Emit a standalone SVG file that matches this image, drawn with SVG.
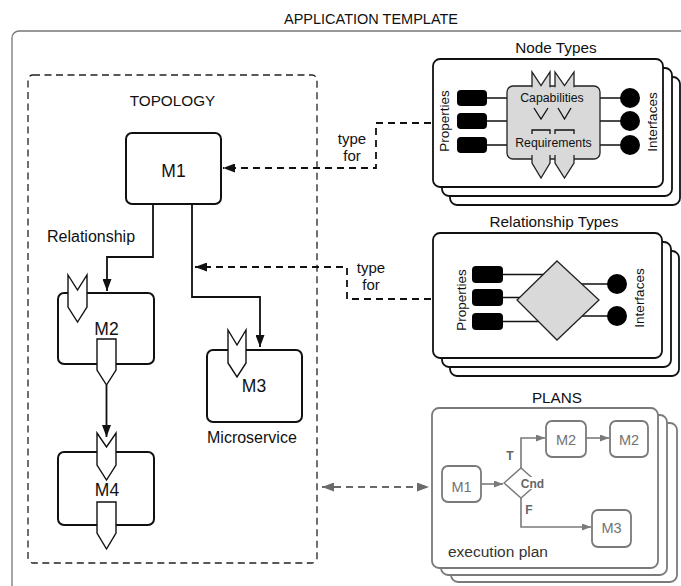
<svg xmlns="http://www.w3.org/2000/svg" width="681" height="586" viewBox="0 0 681 586">
  <defs>
    <style>
      text { font-family: "Liberation Sans", Arial, Helvetica, sans-serif; fill: #111; }
      .title { font-size: 14.5px; text-anchor: middle; }
      .head { font-size: 15.3px; text-anchor: middle; }
      .lbl { font-size: 16px; }
      .mid { text-anchor: middle; }
      .m { font-size: 17.5px; text-anchor: middle; }
      .side { font-size: 13.5px; text-anchor: middle; }
      .inner { font-size: 12.3px; text-anchor: middle; }
      .tf { font-size: 15px; text-anchor: middle; }
      .frame { fill: none; stroke: #777; stroke-width: 1.3; }
      .topo { fill: none; stroke: #222; stroke-width: 1.3; stroke-dasharray: 7 4.5; }
      .card { fill: #fff; stroke: #111; stroke-width: 1.8; }
      .pcard { fill: #fff; stroke: #7a7a7a; stroke-width: 1.8; }
      .node { fill: #fff; stroke: #111; stroke-width: 2; }
      .port { fill: #fff; stroke: #111; stroke-width: 1.4; stroke-linejoin: miter; }
      .prop { fill: #000; }
      .ifc { fill: #000; }
      .gray { fill: #d9d9d9; stroke: #222; stroke-width: 1.3; stroke-linejoin: miter; }
      .wire { stroke: #111; stroke-width: 1.5; fill: none; }
      .link { stroke: #111; stroke-width: 1.8; fill: none; }
      .dash { stroke: #111; stroke-width: 1.8; fill: none; stroke-dasharray: 7 5; }
      .gdash { stroke: #6a6a6a; stroke-width: 1.8; fill: none; stroke-dasharray: 7 5; }
      .pnode { fill: #fff; stroke: #7a7a7a; stroke-width: 1.8; }
      .pline { stroke: #7a7a7a; stroke-width: 1.6; fill: none; }
      .ptext { fill: #727272; font-size: 14.5px; text-anchor: middle; }
      .pbold { fill: #666; font-size: 12px; font-weight: bold; text-anchor: middle; }
    </style>
    <marker id="ah" markerUnits="userSpaceOnUse" markerWidth="12" markerHeight="9" refX="12" refY="4.5" orient="auto">
      <path d="M0,0 L12,4.5 L0,9 z" fill="#111"/>
    </marker>
    <marker id="ahg" markerUnits="userSpaceOnUse" markerWidth="12" markerHeight="9" refX="12" refY="4.5" orient="auto-start-reverse">
      <path d="M0,0 L12,4.5 L0,9 z" fill="#6a6a6a"/>
    </marker>
    <marker id="ahp" markerUnits="userSpaceOnUse" markerWidth="9" markerHeight="7" refX="9" refY="3.5" orient="auto">
      <path d="M0,0 L9,3.5 L0,7 z" fill="#7a7a7a"/>
    </marker>
  </defs>

  <!-- application template frame -->
  <text class="title" x="371" y="24">APPLICATION TEMPLATE</text>
  <rect class="frame" x="12" y="31" width="690" height="580" rx="7"/>

  <!-- topology container -->
  <g id="topology">
    <rect class="topo" x="28" y="75" width="289" height="488" rx="5"/>
    <text class="head" x="172.5" y="106">TOPOLOGY</text>
  </g>

  <!-- connectors -->
  <g id="connectors">
    <path class="link" d="M153,204 V257 H107 V291" marker-end="url(#ah)"/>
    <path class="link" d="M192,204 V297 H260 V347" marker-end="url(#ah)"/>
    <path class="link" d="M106.5,385 V437" marker-end="url(#ah)"/>
    <path class="dash" d="M431,123 H376 V168 H223" marker-end="url(#ah)"/>
    <path class="dash" d="M431,299 H347 V267 H195" marker-end="url(#ah)"/>
    <path class="gdash" d="M322,487 H429" marker-start="url(#ahg)" marker-end="url(#ahg)"/>
    <text class="tf" x="352" y="144">type</text>
    <text class="tf" x="352" y="161">for</text>
    <text class="tf" x="371" y="273">type</text>
    <text class="tf" x="371" y="290">for</text>
    <text class="lbl" x="47" y="242">Relationship</text>
  </g>

  <!-- topology nodes -->
  <g id="M1">
    <rect class="node" x="126" y="133" width="95" height="71" rx="6"/>
    <text class="m" x="173.5" y="177">M1</text>
  </g>
  <g id="M2">
    <rect class="node" x="58" y="293" width="96" height="71" rx="6"/>
    <polygon class="port" points="68,275 77.5,290 87,275 87,307 77.5,322 68,307"/>
    <text class="m" x="106.5" y="335">M2</text>
    <polygon class="port" points="97,339 116,339 116,370 106.5,385 97,370"/>
  </g>
  <g id="M3">
    <rect class="node" x="207" y="350" width="95" height="72" rx="6"/>
    <polygon class="port" points="228,330 237,345 246,330 246,363 237,377 228,363"/>
    <text class="m" x="254" y="392">M3</text>
    <text class="lbl" x="207" y="443">Microservice</text>
  </g>
  <g id="M4">
    <rect class="node" x="58" y="452" width="96" height="73" rx="6"/>
    <polygon class="port" points="97,433 106.5,447 116,433 116,465 106.5,480 97,465"/>
    <text class="m" x="107" y="496">M4</text>
    <polygon class="port" points="97,502 116,502 116,533 106.5,549 97,533"/>
  </g>

  <!-- node types stack -->
  <g id="node-types">
    <text class="head" x="556" y="53">Node Types</text>
    <rect class="card" x="450" y="77" width="230" height="128" rx="7"/>
    <rect class="card" x="442" y="68" width="230" height="128" rx="7"/>
    <rect class="card" x="433" y="59" width="230" height="128" rx="7"/>
    <path class="wire" d="M487,98 H507 M487,121 H507 M487,145 H507 M600,98 H621 M600,121 H621 M600,145 H621"/>
    <rect class="prop" x="457" y="90" width="30" height="16" rx="4"/>
    <rect class="prop" x="457" y="113" width="30" height="16" rx="4"/>
    <rect class="prop" x="457" y="137" width="30" height="16" rx="4"/>
    <circle class="ifc" cx="630" cy="98" r="10"/>
    <circle class="ifc" cx="630" cy="121" r="10"/>
    <circle class="ifc" cx="630" cy="145" r="10"/>
    <rect class="gray" x="507" y="86" width="93" height="73" rx="6"/>
    <path class="gray" d="M532,87.2 V72 L541,85.5 L550,72 V87.2"/>
    <path class="gray" d="M555,87.2 V72 L564.5,85.5 L574,72 V87.2"/>
    <path class="wire" style="stroke-width:1.3" d="M534,108 L541,119 L548,108 M558,108 L564.5,119 L571,108"/>
    <path class="wire" style="stroke-width:1.3" d="M532,134 V130 H550 V134 M555,134 V130 H574 V134"/>
    <path class="gray" d="M532,155 V163 L541,178 L550,163 V155"/>
    <path class="gray" d="M555,155 V163 L564.5,178 L574,163 V155"/>
    <text class="inner" x="552" y="102">Capabilities</text>
    <text class="inner" x="553.5" y="147">Requirements</text>
    <text class="side" transform="translate(449,121) rotate(-90)">Properties</text>
    <text class="side" transform="translate(657,122) rotate(-90)">Interfaces</text>
  </g>

  <!-- relationship types stack -->
  <g id="relationship-types">
    <text class="head" x="554" y="227">Relationship Types</text>
    <rect class="card" x="450" y="251" width="229" height="125" rx="7"/>
    <rect class="card" x="442" y="242" width="229" height="125" rx="7"/>
    <rect class="card" x="433" y="233" width="229" height="125" rx="7"/>
    <path class="wire" d="M503,274.5 H548 M503,297.5 H548 M503,321.5 H548 M566,284 H608 M566,316 H608"/>
    <rect class="prop" x="472" y="266" width="31" height="17" rx="4"/>
    <rect class="prop" x="472" y="289" width="31" height="17" rx="4"/>
    <rect class="prop" x="472" y="313" width="31" height="17" rx="4"/>
    <circle class="ifc" cx="617" cy="284" r="10"/>
    <circle class="ifc" cx="617" cy="316" r="10"/>
    <polygon class="gray" points="557,261 599,300 557,340 517,300"/>
    <text class="side" transform="translate(466,300) rotate(-90)">Properties</text>
    <text class="side" transform="translate(644,298) rotate(-90)">Interfaces</text>
  </g>

  <!-- plans stack -->
  <g id="plans">
    <text class="head" x="557" y="403">PLANS</text>
    <rect class="pcard" x="451" y="423" width="226" height="159" rx="7"/>
    <rect class="pcard" x="441" y="415" width="226" height="160" rx="7"/>
    <rect class="pcard" x="432" y="408" width="226" height="160" rx="7"/>
    <path class="pline" d="M481,484 H503" marker-end="url(#ahp)"/>
    <path class="pline" d="M521,468 V438 H545" marker-end="url(#ahp)"/>
    <path class="pline" d="M586,438 H609" marker-end="url(#ahp)"/>
    <path class="pline" d="M521,498 V527 H591" marker-end="url(#ahp)"/>
    <g id="P-M1">
      <rect class="pnode" x="442" y="466" width="39" height="36" rx="6"/>
      <text class="ptext" x="461.5" y="492">M1</text>
    </g>
    <g id="P-Cnd">
      <polygon class="pnode" style="stroke-width:1.4" points="504,483 521,468 538,483 521,498"/>
      <rect x="526" y="477" width="19" height="12" fill="#fff"/>
      <text class="pbold" x="532.5" y="487.5">Cnd</text>
    </g>
    <g id="P-M2">
      <rect class="pnode" x="546" y="421" width="40" height="36" rx="6"/>
      <text class="ptext" x="566" y="445">M2</text>
    </g>
    <g id="P-M2b">
      <rect class="pnode" x="610" y="421" width="38" height="36" rx="6"/>
      <text class="ptext" x="629" y="445">M2</text>
    </g>
    <g id="P-M3">
      <rect class="pnode" x="592" y="510" width="39" height="37" rx="6"/>
      <text class="ptext" x="611.5" y="533">M3</text>
    </g>
    <text class="pbold" x="510" y="460">T</text>
    <text class="pbold" x="529" y="514">F</text>
    <text x="448" y="557" style="font-size:15.5px;fill:#333">execution plan</text>
  </g>
</svg>
